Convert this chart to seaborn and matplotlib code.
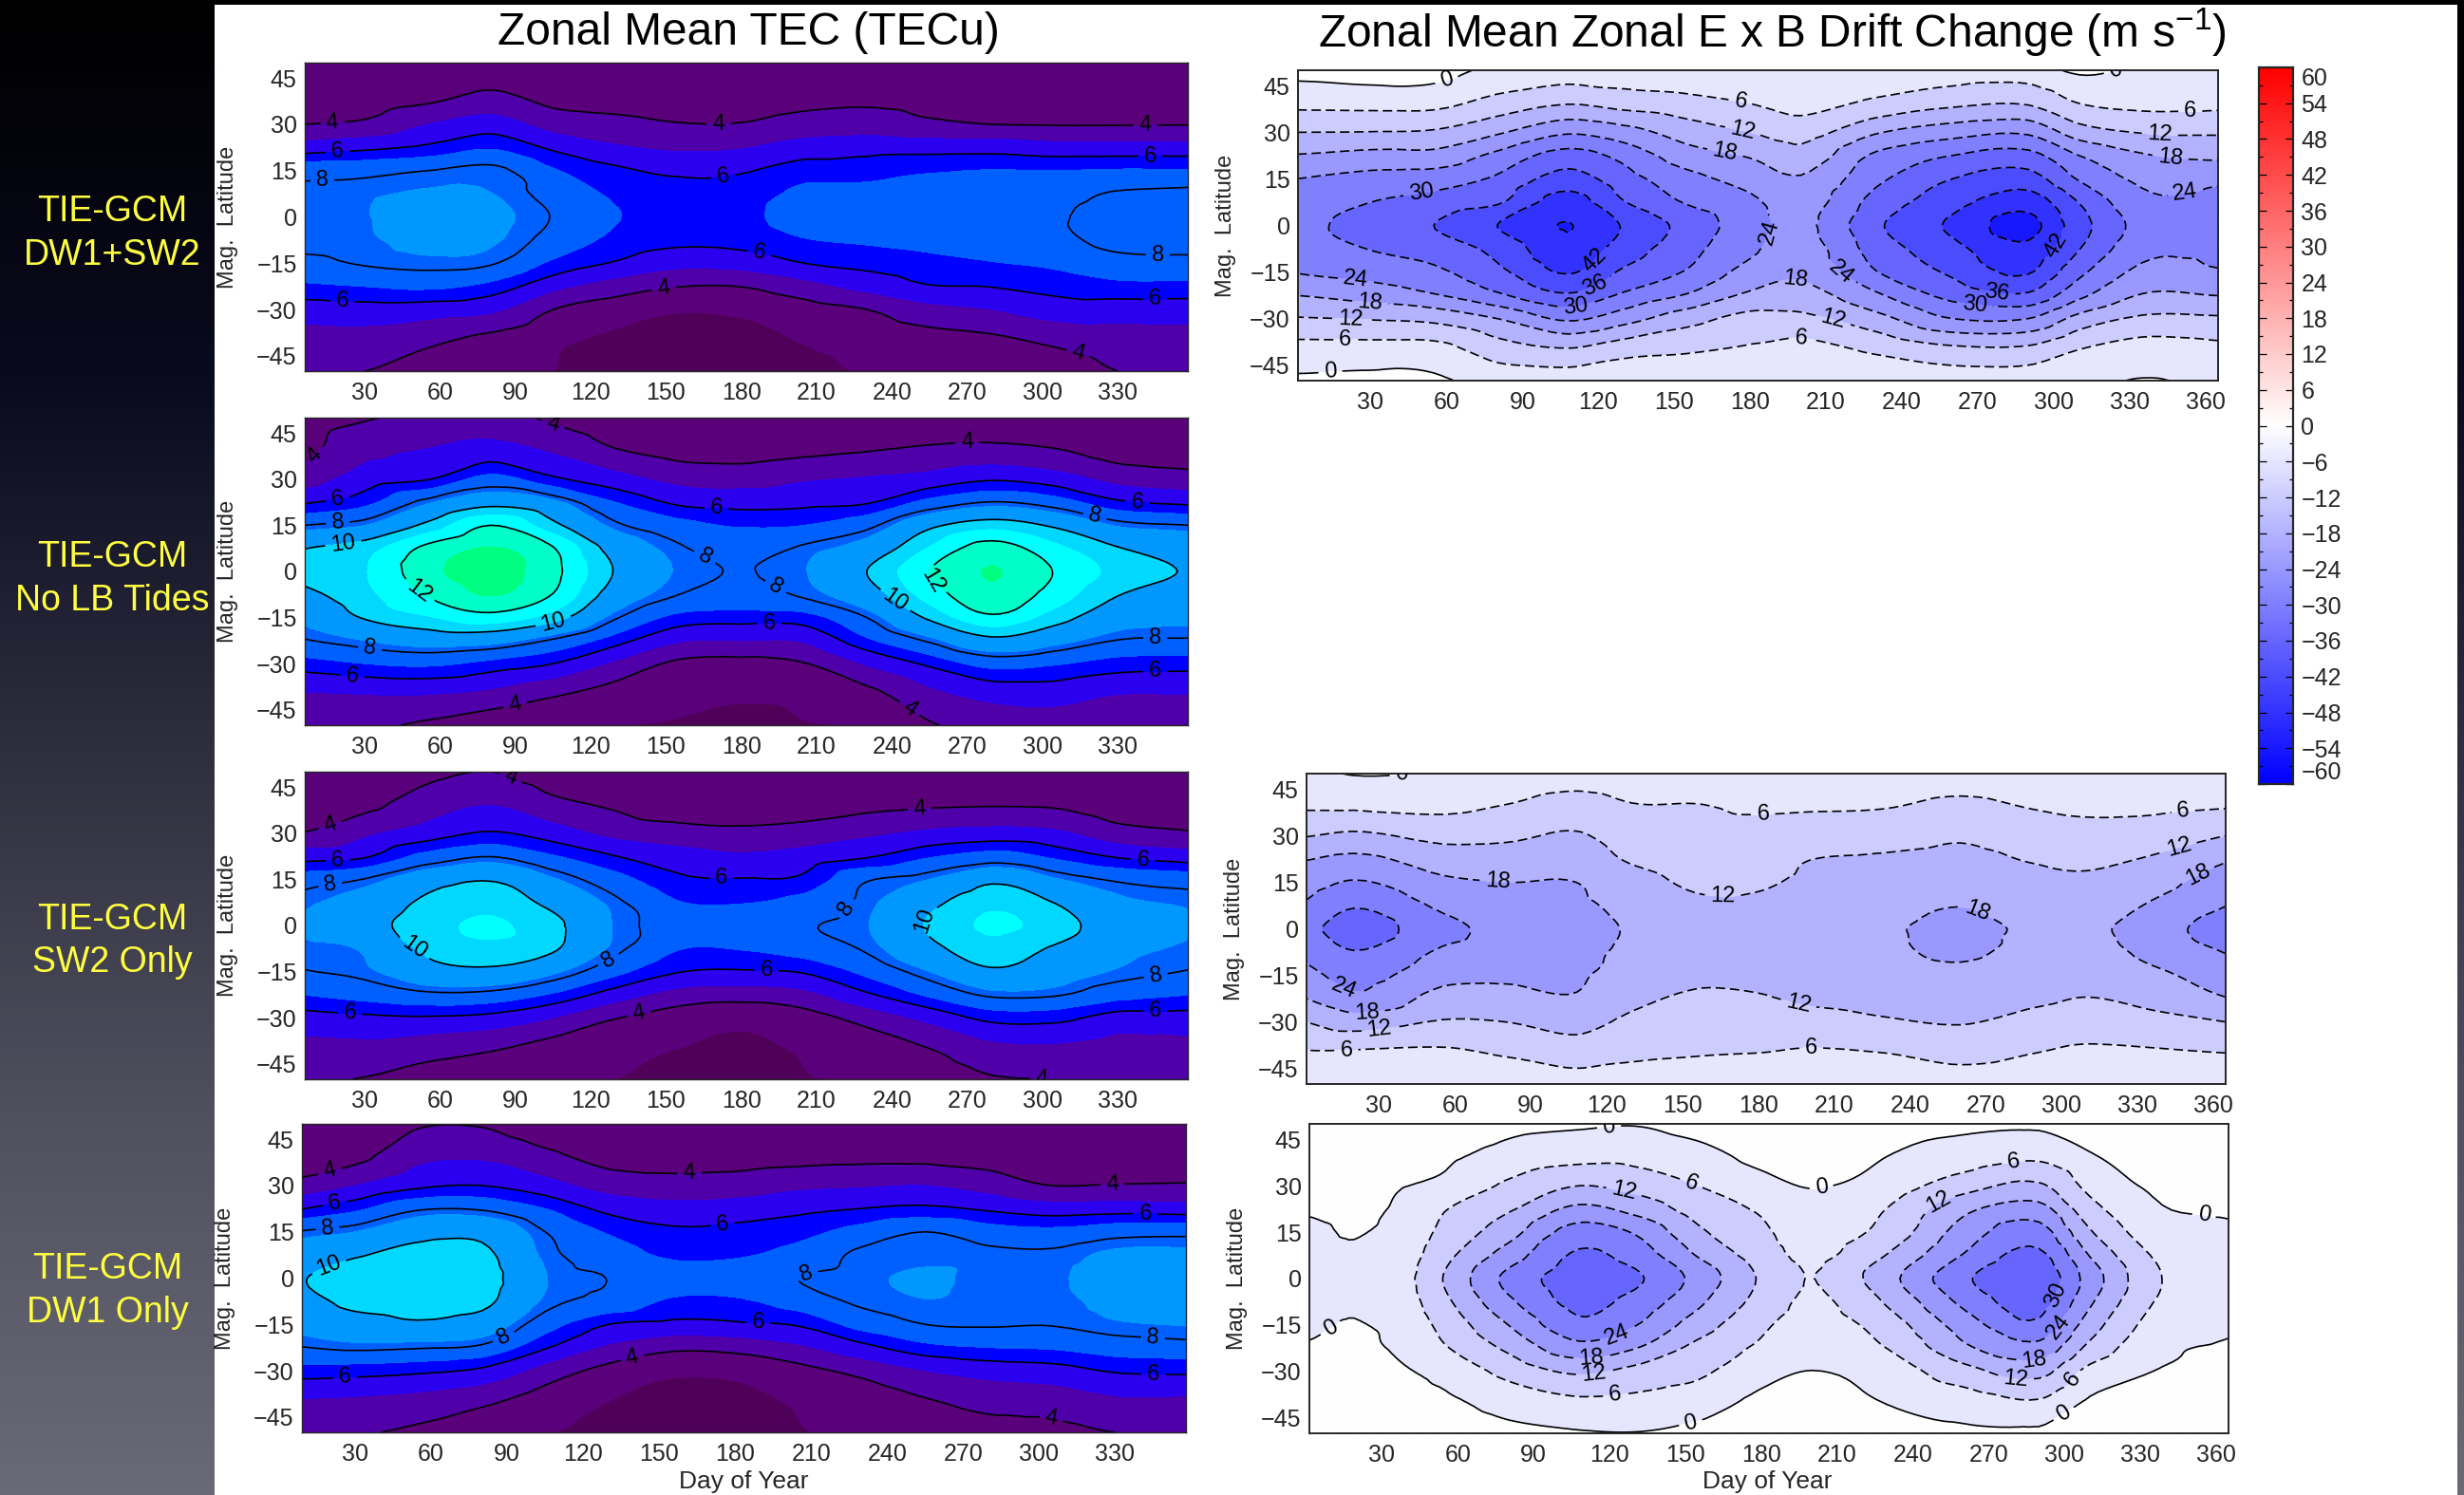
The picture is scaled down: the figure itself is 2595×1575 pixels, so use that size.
import numpy as np
import pandas as pd
import seaborn as sns
import matplotlib
matplotlib.use('Agg')
import matplotlib.pyplot as plt
import matplotlib.tri as mtri
from matplotlib.patches import Rectangle
from matplotlib.ticker import MultipleLocator

# latitudes of the rows in every column below, north to south
lat_rows = [50, 40, 30, 22, 15, 8, 0, -8, -15, -22, -30, -40, -50]
tec_days = [6, 30, 55, 80, 105, 130, 155, 180, 205, 230, 255, 280, 305, 330, 358]
drift_days = [1, 30, 55, 80, 108, 130, 155, 180, 200, 230, 260, 290, 310, 335, 365]
drift_sw2_days = [1, 20, 55, 80, 108, 130, 155, 180, 200, 230, 260, 290, 310, 335, 365]
drift_dw1_days = [1, 19, 37, 55, 80, 108, 130, 155, 180, 200, 230, 260, 290, 310, 335, 365]

# zonal mean TEC, one list per day
tec_dw1_sw2 = [
    [3.2, 3.5, 4.0, 5.6, 7.6, 8.2, 8.4, 8.3, 7.7, 6.8, 5.5, 4.6, 4.2],
    [3.1, 3.4, 4.2, 5.9, 7.7, 8.3, 8.45, 8.4, 8.1, 7.0, 5.6, 4.6, 4.0],
    [3.1, 3.6, 5.0, 6.3, 8.0, 8.6, 9.3, 8.7, 8.3, 7.2, 5.5, 4.2, 3.6],
    [3.2, 4.1, 5.5, 6.9, 8.3, 8.5, 8.8, 8.6, 8.1, 6.7, 5.2, 3.7, 3.2],
    [3.1, 3.6, 4.6, 5.9, 7.0, 7.6, 7.95, 7.6, 6.7, 5.4, 4.0, 3.2, 3.0],
    [3.1, 3.5, 4.3, 5.2, 6.2, 6.7, 6.95, 6.6, 5.9, 4.6, 3.5, 2.8, 2.5],
    [3.1, 3.4, 4.05, 4.9, 5.8, 6.4, 6.7, 6.2, 5.3, 4.1, 3.1, 2.6, 2.3],
    [3.1, 3.4, 4.05, 5.0, 5.9, 6.4, 6.7, 6.3, 5.4, 4.1, 3.2, 2.65, 2.4],
    [3.2, 3.6, 4.4, 5.5, 6.5, 7.1, 7.3, 6.8, 6.0, 4.7, 3.6, 3.05, 2.8],
    [3.3, 3.7, 4.5, 5.7, 6.5, 7.2, 7.6, 7.0, 6.3, 5.4, 4.0, 3.3, 3.05],
    [3.3, 3.6, 4.2, 5.7, 6.8, 7.4, 7.85, 7.2, 6.6, 6.0, 4.7, 3.6, 3.2],
    [3.2, 3.5, 4.0, 5.7, 6.95, 7.5, 7.9, 7.4, 6.85, 6.1, 5.0, 3.8, 3.3],
    [3.2, 3.4, 3.95, 5.5, 6.9, 7.6, 7.9, 7.7, 7.1, 6.4, 5.5, 4.2, 3.5],
    [3.2, 3.4, 3.95, 5.5, 7.0, 8.05, 8.4, 8.3, 7.6, 6.7, 5.5, 4.5, 4.0],
    [3.2, 3.4, 3.97, 5.5, 7.0, 8.2, 8.45, 8.35, 7.7, 6.7, 5.5, 4.6, 4.2],
]
tec_no_tides = [
    [3.5, 3.7, 4.5, 6.0, 8.0, 9.9, 10.4, 9.6, 8.8, 8.0, 6.5, 4.9, 4.2],
    [3.9, 4.7, 5.5, 6.7, 8.5, 10.5, 10.95, 10.7, 10.1, 8.6, 6.9, 5.0, 4.2],
    [4.3, 5.0, 5.95, 8.5, 10.3, 12.2, 12.7, 12.05, 10.9, 9.2, 7.1, 5.0, 3.8],
    [4.5, 5.3, 7.3, 9.7, 12.0, 13.0, 13.4, 13.0, 11.6, 9.1, 6.6, 4.7, 3.4],
    [3.8, 4.8, 6.2, 8.9, 10.3, 12.0, 12.3, 11.9, 10.5, 8.0, 6.0, 4.1, 3.3],
    [3.3, 4.0, 5.4, 7.0, 8.2, 9.4, 9.9, 9.3, 8.1, 6.5, 4.8, 3.6, 3.05],
    [3.1, 3.6, 4.7, 5.9, 7.3, 8.1, 8.4, 7.95, 6.6, 5.2, 3.8, 3.2, 2.95],
    [3.05, 3.5, 4.6, 5.7, 6.8, 7.5, 7.97, 7.6, 6.4, 5.1, 3.7, 3.1, 2.85],
    [3.1, 3.7, 4.9, 5.8, 6.9, 8.1, 8.45, 8.1, 6.5, 5.2, 3.95, 3.2, 2.95],
    [3.4, 3.9, 5.1, 6.0, 7.7, 9.0, 10.0, 9.3, 8.0, 6.8, 5.1, 3.7, 3.1],
    [3.6, 4.1, 5.4, 7.4, 9.7, 11.0, 12.0, 11.4, 10.2, 8.3, 6.2, 4.7, 3.9],
    [3.4, 4.2, 5.9, 8.2, 10.6, 12.4, 13.05, 12.7, 11.8, 9.8, 7.3, 5.3, 4.4],
    [3.2, 4.0, 5.5, 7.6, 9.8, 11.2, 11.95, 11.5, 10.5, 9.0, 7.0, 5.4, 4.5],
    [3.1, 3.5, 4.7, 6.3, 8.4, 10.0, 10.7, 10.0, 9.1, 8.05, 6.5, 5.0, 4.3],
    [3.1, 3.4, 4.4, 5.9, 8.0, 9.4, 9.9, 9.5, 8.8, 7.95, 6.4, 5.0, 4.3],
]
tec_sw2 = [
    [3.3, 3.5, 4.05, 5.7, 7.5, 8.3, 8.6, 8.35, 7.95, 7.0, 5.6, 4.7, 4.2],
    [3.2, 3.7, 4.8, 6.0, 8.05, 9.0, 9.5, 8.6, 8.3, 7.4, 5.8, 4.7, 3.95],
    [3.7, 4.5, 5.5, 7.4, 9.4, 10.2, 10.6, 10.2, 9.5, 7.9, 5.9, 4.4, 3.6],
    [4.0, 4.9, 6.1, 8.1, 9.9, 10.6, 11.15, 10.7, 9.7, 7.8, 5.7, 4.1, 3.5],
    [3.4, 4.2, 5.5, 7.1, 8.6, 9.6, 10.3, 10.1, 8.7, 6.9, 5.0, 3.6, 3.2],
    [3.2, 3.8, 4.7, 6.1, 7.3, 8.15, 8.4, 8.2, 7.2, 5.6, 4.05, 3.2, 3.0],
    [3.1, 3.4, 4.4, 5.5, 6.2, 6.9, 7.6, 6.9, 6.05, 4.7, 3.5, 3.0, 2.8],
    [3.1, 3.4, 4.25, 5.2, 6.05, 6.8, 7.5, 6.9, 5.9, 4.5, 3.3, 2.8, 2.6],
    [3.2, 3.5, 4.4, 5.5, 6.2, 7.2, 7.9, 7.3, 6.1, 4.8, 3.6, 3.1, 2.95],
    [3.3, 3.7, 4.8, 6.0, 7.9, 8.25, 8.45, 8.1, 7.2, 5.95, 4.4, 3.4, 3.05],
    [3.3, 3.8, 5.2, 6.9, 8.5, 9.6, 10.15, 9.6, 8.5, 7.2, 5.3, 4.0, 3.4],
    [3.2, 3.85, 5.4, 7.5, 9.7, 10.7, 11.15, 10.6, 9.8, 8.3, 6.3, 4.7, 3.9],
    [3.2, 3.8, 5.2, 6.8, 8.6, 9.9, 10.55, 9.8, 9.1, 8.2, 6.3, 4.8, 4.0],
    [3.1, 3.4, 4.4, 6.0, 7.85, 8.7, 9.2, 8.8, 8.4, 7.4, 5.6, 4.6, 4.1],
    [3.1, 3.4, 4.1, 5.6, 7.5, 8.35, 8.6, 8.35, 7.95, 7.0, 5.6, 4.7, 4.2],
]
tec_dw1 = [
    [3.3, 3.6, 4.3, 6.0, 8.0, 9.0, 9.8, 9.3, 8.8, 8.0, 6.5, 4.9, 4.2],
    [3.5, 3.7, 5.0, 6.8, 8.5, 9.8, 10.7, 10.3, 9.4, 8.3, 6.4, 4.8, 4.1],
    [3.9, 4.7, 5.8, 8.0, 9.5, 10.4, 10.9, 10.5, 9.8, 8.2, 6.2, 4.6, 3.8],
    [3.9, 4.8, 6.0, 8.0, 9.6, 10.3, 10.6, 10.3, 9.3, 7.9, 5.8, 4.2, 3.4],
    [3.3, 4.2, 5.4, 7.0, 8.0, 8.3, 8.55, 8.3, 7.4, 6.2, 4.6, 3.5, 3.05],
    [3.1, 3.6, 4.6, 5.8, 6.8, 7.4, 7.98, 7.6, 6.0, 4.9, 3.7, 3.0, 2.75],
    [3.05, 3.5, 4.4, 5.4, 6.2, 6.7, 7.4, 6.7, 5.75, 4.3, 3.2, 2.7, 2.5],
    [3.05, 3.5, 4.5, 5.5, 6.3, 6.75, 7.4, 6.7, 5.85, 4.4, 3.25, 2.75, 2.55],
    [3.2, 3.6, 4.8, 5.8, 6.6, 7.2, 8.0, 7.3, 6.1, 4.9, 3.7, 3.1, 2.95],
    [3.4, 3.7, 4.9, 6.1, 7.3, 8.2, 8.35, 8.15, 7.3, 5.8, 4.3, 3.4, 3.1],
    [3.4, 3.7, 5.0, 6.3, 8.0, 8.3, 8.6, 8.45, 8.0, 6.7, 5.0, 3.9, 3.4],
    [3.3, 3.6, 4.6, 5.95, 7.4, 8.2, 8.35, 8.3, 8.1, 7.0, 5.4, 4.3, 3.65],
    [3.2, 3.5, 4.0, 5.6, 7.2, 8.15, 8.4, 8.3, 8.05, 7.1, 5.6, 4.4, 3.7],
    [3.2, 3.5, 4.05, 5.7, 7.6, 8.65, 8.85, 8.7, 8.4, 7.5, 6.1, 4.8, 4.0],
    [3.2, 3.5, 4.1, 5.6, 7.7, 8.7, 9.0, 8.85, 8.55, 7.7, 6.2, 4.8, 4.1],
]

# zonal mean zonal E x B drift change, one list per day
drift_dw1_sw2 = [
    [2, -3.9, -12, -18.8, -24, -27, -29, -27, -24.3, -18.5, -11.6, -3.6, 1],
    [3, -3.6, -12.2, -20.4, -26, -29.8, -31.5, -30, -26, -21, -12.4, -3.5, 1.5],
    [2.5, -3.7, -12.8, -20.4, -27, -32, -36, -32.3, -28.7, -24, -13.6, -3.6, 1],
    [-1.5, -7.7, -17.2, -26, -31, -34.8, -42, -37.5, -34.5, -29.5, -18, -9, -2.5],
    [-2.5, -11, -23.3, -33, -38.5, -44.5, -48.2, -46, -42.5, -35.8, -25, -11.5, -2.5],
    [-2.5, -9, -20.5, -28.5, -32.5, -36, -41.5, -39, -35, -29.5, -20.5, -8.3, -1.5],
    [-2, -7.6, -15.3, -21, -26, -29.2, -34, -32, -29.5, -24, -14.5, -6.8, -1.5],
    [-1.7, -5.6, -12, -17.8, -21.8, -25, -26.5, -25, -21.8, -17.3, -10, -5.2, -1.5],
    [-1.5, -3.7, -9.5, -14.4, -18.6, -21, -22.5, -21, -19.3, -15.8, -10.5, -3.9, -1.5],
    [-2, -6.8, -17.5, -25.5, -28.7, -32, -35, -32.5, -29.8, -23.5, -16, -7.1, -1.5],
    [-2.5, -10, -21.6, -30.5, -36, -39.5, -43, -40, -37, -32.5, -24, -10.5, -2.5],
    [-2.5, -10.8, -23, -32.5, -38.5, -45, -50, -46, -42.5, -35.5, -24, -10.5, -2.5],
    [1, -5.5, -15, -24.5, -29.5, -35.5, -38.5, -36, -31.5, -26, -16, -6, -1.5],
    [-1, -4, -11.7, -19, -22.8, -25.4, -28, -25.7, -22.5, -18, -11, -3.3, 0.3],
    [-1.5, -4.2, -11.3, -17.2, -23, -25, -26.5, -25.2, -23.5, -18.5, -11.2, -4.3, -1.5],
]
drift_sw2 = [
    [-1.5, -5, -11.7, -18, -21.2, -24.5, -28, -25.4, -22, -18.3, -12, -5.4, -1.5],
    [0.3, -4.8, -13.2, -19.7, -24.5, -29.2, -33, -29.5, -26.2, -23, -15, -5.3, -1.5],
    [-0.5, -4.4, -10.2, -15.4, -19.2, -22.7, -25.5, -23, -19.8, -16.2, -11.5, -5, -1.5],
    [-1.5, -6, -10.8, -15, -18, -20.5, -22.5, -21.5, -19, -16.2, -12, -6.6, -2],
    [-3, -8.2, -12.6, -15.2, -18, -18.8, -19.5, -19, -18.6, -17.6, -14, -9, -3],
    [-2, -6.2, -9, -11.5, -14.5, -16.5, -17.5, -17, -15.5, -13.6, -10.7, -7.2, -3],
    [-2, -6.1, -7.8, -9.2, -11, -13, -14, -13.7, -13, -11.3, -9, -6.4, -2.5],
    [-2, -5.1, -7.8, -9.7, -11.3, -12.8, -13.5, -13.2, -12.8, -11.7, -9, -6, -2.3],
    [-2, -5.2, -8.7, -12, -13, -14, -14.7, -14.5, -14, -13, -9.8, -5.3, -2],
    [-2, -5.5, -9.5, -13, -15, -16.5, -17.2, -17, -15.8, -14.2, -11.3, -6, -2],
    [-3, -7.1, -11.2, -13.8, -16, -17.8, -19.5, -18.6, -16.8, -14.7, -12.4, -7.8, -3],
    [-2, -5.4, -9, -11.6, -14.2, -16, -17, -16.4, -14.8, -13.2, -10, -6, -2],
    [-1.5, -4.5, -8.3, -11.1, -13, -15, -16.7, -15.5, -13.8, -12, -9, -4.8, -1.5],
    [-1.5, -4.5, -9, -12.7, -15.5, -18.3, -21, -19.3, -16.5, -13.8, -10.2, -5.2, -2],
    [-1.5, -5.3, -12, -17.6, -21.5, -23.7, -27, -24, -21, -18, -12, -6, -2],
]
drift_dw1 = [
    [3, 2.2, 1, 0.3, -0.8, -1.2, -1.6, -1.3, -0.9, 0.3, 1, 2, 3],
    [3, 2.4, 1.6, 0.8, 0.2, -0.4, -0.7, -0.4, 0.2, 0.8, 1.6, 2.4, 3],
    [3, 1.6, 0.3, -0.8, -1.6, -2.5, -3.5, -2.6, -1.6, -0.8, 0.5, 1.5, 3],
    [3, 1, -1.3, -5.9, -7.7, -10, -12.5, -10.5, -8, -5.7, -1.6, 1, 3],
    [1.5, -1.8, -7.1, -11.5, -15.6, -20.5, -25.5, -22.5, -18, -13.5, -8, -2.2, 1.5],
    [0.8, -3.7, -12, -20, -26.8, -30.7, -33, -31.5, -28.5, -22.3, -13, -4.8, 0.5],
    [0.3, -3.9, -10, -16.5, -23.5, -27.3, -31, -27.7, -24.3, -18.7, -10.2, -4.4, 0.2],
    [2, -1.8, -6, -9.6, -13.2, -17.3, -22, -19, -15, -10.5, -7.2, -2.7, 1.5],
    [3, 1.7, -2, -5.4, -7.2, -9, -11.3, -9.8, -7.2, -5.1, -2, 1.4, 3],
    [4, 3, 0.3, -1.5, -3, -4.5, -5.9, -4.8, -3.3, -1.8, 0.1, 2.6, 4],
    [1.5, 0.1, -2.8, -6.3, -8.2, -12, -16, -12.5, -9, -6.3, -2.8, -0.2, 1.5],
    [1, -2.2, -9.5, -16.8, -20.5, -24, -28.8, -25, -20.6, -17, -9.8, -2.5, 0.8],
    [0.9, -4.4, -12.8, -20.7, -26.6, -31, -34.5, -32, -28.7, -22.3, -14, -5.2, 1],
    [2.5, -0.4, -4.4, -8.5, -12.7, -17.5, -21.5, -18.8, -15, -10.8, -4.2, 0.8, 2.5],
    [5, 3, 0.8, -1, -3, -5.5, -7.2, -6, -4, -1.9, 0, 2, 4],
    [5, 3.5, 2, 0.6, -0.8, -1.5, -2, -1.5, -0.8, 0.6, 1.8, 3, 4.5],
]

tec_levels = [0, 3, 4, 5, 6, 6.9, 8.5, 10, 11, 12, 13, 20]
tec_colors = ['#4f0058', '#5a007a', '#4f00a8', '#2a00ee', '#0000ff', '#0060ff',
              '#0098ff', '#00d8ff', '#00ffff', '#00ffc8', '#00ff80']
tec_lines = [4, 6, 8, 10, 12]
drift_levels = list(range(-60, 61, 6))
drift_lines = list(range(-48, 1, 6))
bar_ticks = list(range(-60, 61, 6))
sidebar_colors = ['#000000', '#0a0a1f', '#2e2e3e', '#50505f', '#6a6a76']

sns.set_theme(style='ticks', rc={'xtick.direction': 'in', 'ytick.direction': 'in'})
plt.rcParams['font.family'] = ['Liberation Sans', 'DejaVu Sans']
plt.rcParams['mathtext.fontset'] = 'custom'
plt.rcParams['mathtext.rm'] = 'Liberation Sans'

W, H = 2595, 1575
fig = plt.figure(figsize=(W / 100, H / 100), dpi=100)

# dark slide behind the plots, in pixel coordinates
bg = fig.add_axes([0, 0, 1, 1])
side_cmap = sns.blend_palette(sidebar_colors, as_cmap=True)
bg.imshow(np.arange(256).reshape(-1, 1), cmap=side_cmap, aspect='auto', extent=(0, W, H, 0))
bg.add_patch(Rectangle((226, 5), 2588 - 226, H - 5, color='white', lw=0))
bg.set_xlim(0, W)
bg.set_ylim(H, 0)
bg.axis('off')


def add_box(x0, y0, x1, y1):
    return fig.add_axes([x0 / W, 1 - y1 / H, (x1 - x0) / W, (y1 - y0) / H])


def style_axes(ax, xlim, xticks, minor_x, lw):
    ax.set_xlim(*xlim)
    ax.set_ylim(-50, 50)
    ax.set_xticks(xticks)
    ax.set_yticks([-45, -30, -15, 0, 15, 30, 45])
    ax.yaxis.set_minor_locator(MultipleLocator(3.75))
    if minor_x:
        ax.xaxis.set_minor_locator(MultipleLocator(7.5))
    ax.tick_params(axis='both', which='both', top=True, right=True, width=0.9, labelsize=18)
    ax.tick_params(axis='x', which='major', length=5, pad=8)
    ax.tick_params(axis='x', which='minor', length=2.5)
    ax.tick_params(axis='y', which='major', length=14, pad=6)
    ax.tick_params(axis='y', which='minor', length=7)
    for sp in ax.spines.values():
        sp.set_linewidth(lw)


def smooth_field(days, values):
    # the read grid goes in as it is, the refiner only rounds the drawn contours
    z = np.array(values, dtype=float).ravel()
    dd, ll = np.meshgrid(days, lat_rows, indexing='ij')
    tri = mtri.Triangulation(dd.ravel(), ll.ravel())
    cubic = mtri.CubicTriInterpolator(tri, z, kind='geom')
    return mtri.UniformTriRefiner(tri).refine_field(z, triinterpolator=cubic, subdiv=3)


def draw_lines(ax, tri, z, levels, labels):
    # one contour set per level, each with its own label spots
    for lv in levels:
        style = (0, (6, 3)) if lv < 0 else 'solid'
        cs = ax.tricontour(tri, z, levels=[lv], colors='black', linewidths=1.2, linestyles=[style])
        if lv in labels:
            ax.clabel(cs, manual=labels[lv], inline=True, inline_spacing=6,
                      fontsize=17, fmt=lambda v: str(abs(int(v))))


def tec_panel(box, values, xlim, labels):
    ax = add_box(*box)
    style_axes(ax, xlim, list(range(30, 331, 30)), False, 1.0)
    tri, z = smooth_field(tec_days, values)
    ax.tricontourf(tri, z, levels=tec_levels, colors=tec_colors)
    draw_lines(ax, tri, z, tec_lines, labels)
    return ax


bar_cmap = sns.blend_palette(['#0000ff', '#ffffff', '#ff0000'], as_cmap=True)


def drift_panel(box, days, values, labels):
    ax = add_box(*box)
    style_axes(ax, (1.3, 365), list(range(30, 361, 30)), True, 1.4)
    tri, z = smooth_field(days, values)
    band_colors = [bar_cmap((lo + 60) / 120) for lo in drift_levels[:-1]]
    ax.tricontourf(tri, z, levels=drift_levels, colors=band_colors)
    lines = [lv for lv in drift_lines if z.min() < lv]
    draw_lines(ax, tri, z, lines, labels)
    return ax


left_boxes = [(321, 66, 1251, 391), (321, 440, 1251, 764), (321, 813, 1251, 1137), (318, 1184, 1249, 1509)]
right_boxes = [(1367, 74, 2336, 401), (1376, 815, 2344, 1142), (1379, 1184, 2347, 1510)]

tec_panel(left_boxes[0], tec_dw1_sw2, (6, 358), {
    4: [(17, 31), (171, 30), (341, 30), (149, -22), (314, -45)],
    6: [(19, 21), (173, 12), (343, 20), (187, -12), (21, -27), (345, -27)],
    8: [(13, 12), (346, -12)],
})
tec_panel(left_boxes[1], tec_no_tides, (6, 358), {
    4: [(12, 36), (105, 48), (270, 42), (90, -44), (246, -46)],
    6: [(19, 24), (170, 20), (338, 24), (191, -16), (25, -33), (345, -32)],
    8: [(19, 18), (165, 4), (321, 18), (193, -6), (32, -25), (345, -22)],
    10: [(21, 11), (105, -16), (239, -12)],
    12: [(53, -5), (255, -4)],
})
tec_panel(left_boxes[2], tec_sw2, (6, 358), {
    4: [(16, 33), (88, 48), (251, 38), (139, -28), (300, -48)],
    6: [(19, 22), (172, 16), (340, 22), (190, -14), (24, -28), (345, -27)],
    8: [(16, 14), (127, -11), (219, 7), (345, -15)],
    10: [(50, -7), (252, 2)],
})
tec_panel(left_boxes[3], tec_dw1, (9, 358), {
    4: [(20, 35), (162, 34), (329, 30), (139, -24), (305, -45)],
    6: [(22, 24), (175, 18), (342, 21), (189, -14), (26, -31), (345, -30)],
    8: [(19, 17), (207, 5), (88, -18), (345, -19)],
    10: [(19, 5)],
})

drift_panel(right_boxes[0], drift_days, drift_dw1_sw2, {
    0: [(60, 47), (326, 47), (14, -46)],
    -6: [(176, 39), (354, 37), (20, -36), (200, -35)],
    -12: [(177, 30), (342, 29), (22, -30), (213, -30)],
    -18: [(170, 23), (346, 21), (30, -24), (198, -18)],
    -24: [(352, 11), (24, -19), (189, -3), (216, -15)],
    -30: [(50, 11), (111, -26), (269, -24)],
    -36: [(119, -20), (278, -20)],
    -42: [(120, -12), (303, -8)],
})
drift_panel(right_boxes[1], drift_sw2_days, drift_sw2, {
    0: [(39, 49)],
    -6: [(182, 37), (348, 40), (17, -39), (201, -39)],
    -12: [(166, 9), (346, 28), (30, -31), (196, -24)],
    -18: [(77, 16), (267, 6), (353, 19), (25, -25)],
    -24: [(17, -18)],
})
drift_panel(right_boxes[2], drift_dw1_days, drift_dw1, {
    0: [(120, 48), (204, 29), (356, 23), (9, -15), (152, -46), (300, -44)],
    -6: [(153, 32), (280, 37), (122, -36), (304, -33)],
    -12: [(126, 29), (250, 25), (114, -31), (281, -30)],
    -18: [(113, -26), (288, -25)],
    -24: [(123, -18), (303, -19)],
    -30: [(299, -6)],
})

# colour bar
cax = add_box(2379, 71, 2415, 826)
cax.imshow(np.arange(256).reshape(-1, 1), cmap=bar_cmap, origin='lower', aspect='auto', extent=(0, 1, -60, 60))
cax.set_xticks([])
cax.set_yticks(bar_ticks)
cax.yaxis.set_minor_locator(MultipleLocator(3))
cax.yaxis.tick_right()
cax.tick_params(axis='y', which='major', left=True, right=True, length=6, width=0.9, labelsize=18, pad=6, color='black')
cax.tick_params(axis='y', which='minor', left=True, right=True, length=3, width=0.9, color='black')
for sp in cax.spines.values():
    sp.set_linewidth(1.6)
tick_texts = cax.get_yticklabels()
tick_texts[-1].set_va('top')
tick_texts[0].set_va('bottom')

# texts in pixel coordinates of the slide
title_style = dict(fontsize=34.5, color='black', ha='center', va='baseline')
bg.text(788, 47, 'Zonal Mean TEC (TECu)', **title_style)
bg.text(1866, 50, 'Zonal Mean Zonal E x B Drift Change (m s$^{\\mathrm{-1}}$)', **title_style)

side_labels = [('DW1+SW2', 223, 269, 118), ('No LB Tides', 587, 633, 118),
               ('SW2 Only', 969, 1014, 118), ('DW1 Only', 1337, 1383, 113)]
for name, y_top, y_low, xc in side_labels:
    bg.text(xc, y_top, 'TIE-GCM', color='#ffff40', fontsize=27, ha='center', va='center')
    bg.text(xc, y_low, name, color='#ffff40', fontsize=27, ha='center', va='center')

for (x0, y0, x1, y1) in left_boxes:
    bg.text(x0 - 81, (y0 + y1) / 2, 'Mag.  Latitude', rotation=90, fontsize=17, ha='center', va='center')
for (x0, y0, x1, y1) in right_boxes:
    bg.text(x0 - 76, (y0 + y1) / 2, 'Mag.  Latitude', rotation=90, fontsize=17, ha='center', va='center')
bg.text(783, 1561, 'Day of Year', fontsize=19, ha='center', va='center')
bg.text(1861, 1561, 'Day of Year', fontsize=19, ha='center', va='center')

fig.savefig('out.png', dpi=100)
